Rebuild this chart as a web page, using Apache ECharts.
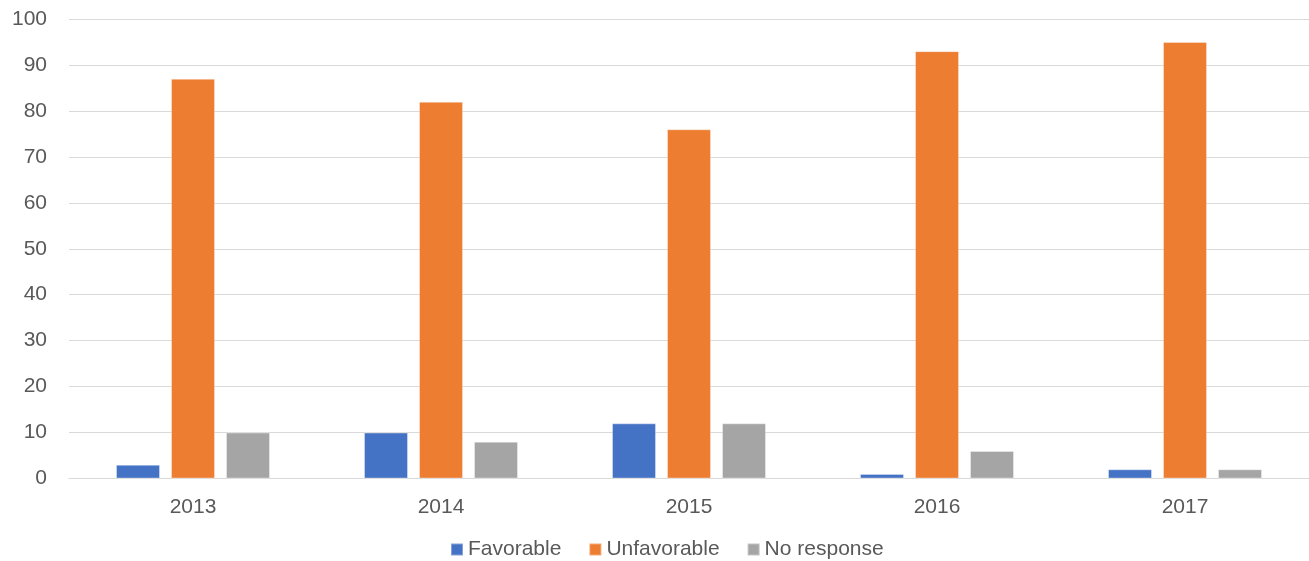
<!DOCTYPE html>
<html>
<head>
<meta charset="utf-8">
<script src="https://cdn.jsdelivr.net/npm/echarts@6/dist/echarts.min.js"></script>
<style>
  html, body { margin: 0; padding: 0; background: #fff; }
  #chart { width: 1309px; height: 561px; }
</style>
</head>
<body>
<div id="chart"></div>
<script>
// Survey results by year (percent)
const years = ['2013', '2014', '2015', '2016', '2017'];
const favorable = [3, 10, 12, 1, 2];
const unfavorable = [87, 82, 76, 93, 95];
const noResponse = [10, 8, 12, 6, 2];
const seriesNames = ['Favorable', 'Unfavorable', 'No response'];
const seriesColors = ['#4472C4', '#ED7D31', '#A5A5A5'];

const font = 'Liberation Sans, Arial, sans-serif';
const textColor = '#595959';

const chart = echarts.init(document.getElementById('chart'));

const seriesData = [favorable, unfavorable, noResponse];

chart.setOption({
  animation: false,
  grid: { left: 69, right: 0, top: 19, bottom: 82.5 },
  legend: {
    top: 534,
    left: 445,
    itemWidth: 12,
    itemHeight: 12,
    itemGap: 27,
    icon: 'rect',
    textStyle: { fontFamily: font, fontSize: 21, color: textColor },
    data: seriesNames
  },
  xAxis: {
    type: 'category',
    data: years,
    axisLine: { show: true, lineStyle: { color: '#D9D9D9', width: 1 } },
    axisTick: { show: false },
    axisLabel: { fontFamily: font, fontSize: 21, color: textColor, margin: 18 }
  },
  yAxis: {
    type: 'value',
    min: 0,
    max: 100,
    interval: 10,
    axisLine: { show: false },
    axisTick: { show: false },
    splitLine: { lineStyle: { color: '#D9D9D9', width: 1 } },
    axisLabel: { fontFamily: font, fontSize: 21, color: textColor, margin: 22 }
  },
  series: seriesNames.map((name, i) => ({
    name: name,
    type: 'bar',
    data: seriesData[i],
    barWidth: 44,
    barGap: '25%',
    itemStyle: { color: seriesColors[i], borderColor: 'rgba(255,255,255,0.35)', borderWidth: 1 }
  }))
});
</script>
</body>
</html>
